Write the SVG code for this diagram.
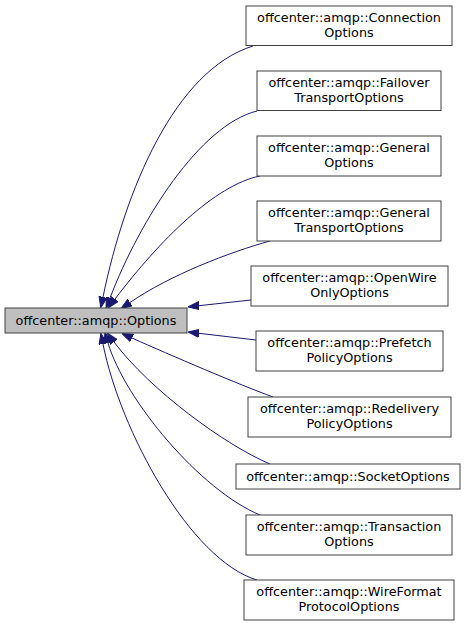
<svg xmlns="http://www.w3.org/2000/svg" width="468" height="627" viewBox="0 0 468 627">
<style>
.n rect{fill:#ffffff;stroke:#404040;stroke-width:1}
.n.main rect{fill:#bfbfbf}
.n text{font-family:"DejaVu Sans",Verdana,sans-serif;font-size:12.8px;text-anchor:middle;fill:#000}
.e path{fill:none;stroke:#191970;stroke-width:1;marker-end:url(#ah)}
</style>
<defs>
<marker id="ah" markerUnits="userSpaceOnUse" markerWidth="11" markerHeight="9" refX="0" refY="4" orient="auto" viewBox="0 0 11 8">
<path d="M0,0 L11,4 L0,8 z" fill="#191970" stroke="#191970" stroke-width="1"/>
</marker>
</defs>
<rect width="468" height="627" fill="#ffffff"/>
<g id="edges" class="e">
<path d="M253,46 C175,70 125,190 103,297"/>
<path d="M257,111 C200,125 140,220 110,298"/>
<path d="M260,176 C215,185 160,240 115,299"/>
<path d="M270,241 C230,252 170,275 130,302.5"/>
<path d="M251,300 L199,305.7"/>
<path d="M256,340 L199,333.3"/>
<path d="M273,397 C240,385 170,355 132,338"/>
<path d="M270,464 C225,445 150,390 114,342"/>
<path d="M260,515 C200,490 125,400 108,343"/>
<path d="M257,580 C190,560 120,430 103,344"/>
</g>
<g id="node_options" class="n main"><rect x="5" y="308" width="182" height="25"/><text x="96" y="324.5">offcenter::amqp::Options</text></g>
<g id="node_connection" class="n"><rect x="246" y="6" width="206" height="39.5"/><text x="349" y="22">offcenter::amqp::Connection</text><text x="349" y="36.5">Options</text></g>
<g id="node_failover" class="n"><rect x="257" y="71" width="184" height="39.5"/><text x="349" y="87">offcenter::amqp::Failover</text><text x="349" y="101.5">TransportOptions</text></g>
<g id="node_general" class="n"><rect x="257" y="136" width="184" height="40"/><text x="349" y="152">offcenter::amqp::General</text><text x="349" y="166.5">Options</text></g>
<g id="node_generaltransport" class="n"><rect x="257" y="201" width="184" height="40"/><text x="349" y="217">offcenter::amqp::General</text><text x="349" y="231.5">TransportOptions</text></g>
<g id="node_openwire" class="n"><rect x="251" y="266" width="197" height="40"/><text x="349.5" y="282">offcenter::amqp::OpenWire</text><text x="349.5" y="296.5">OnlyOptions</text></g>
<g id="node_prefetch" class="n"><rect x="256" y="331" width="187" height="40"/><text x="349.5" y="347">offcenter::amqp::Prefetch</text><text x="349.5" y="361.5">PolicyOptions</text></g>
<g id="node_redelivery" class="n"><rect x="248" y="397" width="203" height="40"/><text x="349.5" y="413">offcenter::amqp::Redelivery</text><text x="349.5" y="427.5">PolicyOptions</text></g>
<g id="node_socket" class="n"><rect x="236" y="464" width="224" height="25"/><text x="348" y="480.5">offcenter::amqp::SocketOptions</text></g>
<g id="node_transaction" class="n"><rect x="246" y="515" width="206" height="40"/><text x="349" y="531">offcenter::amqp::Transaction</text><text x="349" y="545.5">Options</text></g>
<g id="node_wireformat" class="n"><rect x="244" y="580" width="210" height="40"/><text x="349" y="596">offcenter::amqp::WireFormat</text><text x="349" y="610.5">ProtocolOptions</text></g>
</svg>
